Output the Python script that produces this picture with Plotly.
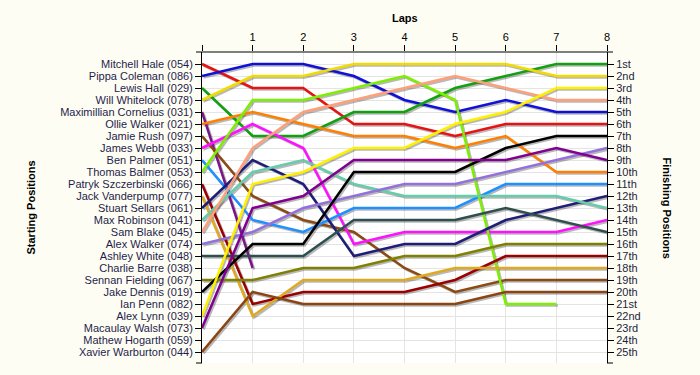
import plotly.graph_objects as go

# ---------------- data ----------------
laps = [0, 1, 2, 3, 4, 5, 6, 7, 8]
lap_labels = ["", "1", "2", "3", "4", "5", "6", "7", "8"]

drivers = [
    "Mitchell Hale (054)", "Pippa Coleman (086)", "Lewis Hall (029)", "Will Whitelock (078)",
    "Maximillian Cornelius (031)", "Ollie Walker (021)", "Jamie Rush (097)", "James Webb (033)",
    "Ben Palmer (051)", "Thomas Balmer (053)", "Patryk Szczerbinski (066)", "Jack Vanderpump (077)",
    "Stuart Sellars (061)", "Max Robinson (041)", "Sam Blake (045)", "Alex Walker (074)",
    "Ashley White (048)", "Charlie Barre (038)", "Sennan Fielding (067)", "Jake Dennis (019)",
    "Ian Penn (082)", "Alex Lynn (039)", "Macaulay Walsh (073)", "Mathew Hogarth (059)",
    "Xavier Warburton (044)",
]

finish_labels = ["1st", "2nd", "3rd", "4th", "5th", "6th", "7th", "8th", "9th", "10th",
                 "11th", "12th", "13th", "14th", "15th", "16th", "17th", "18th", "19th", "20th",
                 "21st", "22nd", "23rd", "24th", "25th"]

N = None
positions = {
    "Mitchell Hale (054)":         [1, 3, 3, 6, 6, 7, 6, 6, 6],
    "Pippa Coleman (086)":         [2, 1, 1, 2, 4, 5, 4, 5, 5],
    "Lewis Hall (029)":            [3, 7, 7, 5, 5, 3, 2, 1, 1],
    "Will Whitelock (078)":        [4, 2, 2, 1, 1, 1, 1, 2, 2],
    "Maximillian Cornelius (031)": [5, 18, N, N, N, N, N, N, N],
    "Ollie Walker (021)":          [6, 5, 6, 7, 7, 8, 7, 10, 10],
    "Jamie Rush (097)":            [7, 12, 14, 15, 18, 20, 19, 19, 19],
    "James Webb (033)":            [8, 6, 8, 16, 15, 15, 15, 15, 14],
    "Ben Palmer (051)":            [9, 14, 15, 13, 13, 13, 11, 11, 11],
    "Thomas Balmer (053)":         [10, 4, 4, 3, 2, 4, 21, 21, N],
    "Patryk Szczerbinski (066)":   [11, 21, 20, 20, 20, 19, 17, 17, 17],
    "Jack Vanderpump (077)":       [12, 22, 19, 19, 19, 18, 18, 18, 18],
    "Stuart Sellars (061)":        [13, 9, 11, 17, 16, 16, 14, 13, 12],
    "Max Robinson (041)":          [14, 10, 9, 11, 12, 12, 12, 12, 13],
    "Sam Blake (045)":             [15, 8, 5, 4, 3, 2, 3, 4, 4],
    "Alex Walker (074)":           [16, 15, 13, 12, 11, 11, 10, 9, 8],
    "Ashley White (048)":          [17, 17, 17, 14, 14, 14, 13, 14, 15],
    "Sennan Fielding (067)":       [19, 19, 18, 18, 17, 17, 16, 16, 16],
    "Jake Dennis (019)":           [20, 16, 16, 10, 10, 10, 8, 7, 7],
    "Alex Lynn (039)":             [22, 11, 10, 8, 8, 6, 5, 3, 3],
    "Macaulay Walsh (073)":        [23, 13, 12, 9, 9, 9, 9, 8, 9],
    "Xavier Warburton (044)":      [25, 20, 21, 21, 21, 21, 20, 20, 20],
}

colors = {
    "Mitchell Hale (054)": "#E81212",
    "Pippa Coleman (086)": "#1010D8",
    "Lewis Hall (029)": "#10A010",
    "Will Whitelock (078)": "#F2DC00",
    "Maximillian Cornelius (031)": "#7A1488",
    "Ollie Walker (021)": "#FF8000",
    "Jamie Rush (097)": "#8B4A13",
    "James Webb (033)": "#FF10FF",
    "Ben Palmer (051)": "#1E90FF",
    "Thomas Balmer (053)": "#7CF000",
    "Patryk Szczerbinski (066)": "#9A0000",
    "Jack Vanderpump (077)": "#E0AA20",
    "Stuart Sellars (061)": "#1E1E78",
    "Max Robinson (041)": "#66CDAA",
    "Sam Blake (045)": "#FFA07A",
    "Alex Walker (074)": "#9370DB",
    "Ashley White (048)": "#2F4F4F",
    "Sennan Fielding (067)": "#808000",
    "Jake Dennis (019)": "#000000",
    "Alex Lynn (039)": "#FFF000",
    "Macaulay Walsh (073)": "#800090",
    "Xavier Warburton (044)": "#8B4513",
}

# ---------------- layout geometry ----------------
W, H = 700, 375
ML, MR, MT, MB = 202, 93, 52, 12
PW, PH = W - ML - MR, H - MT - MB
YMAX = PH / 12.0  # 12 px per position
xr = [0, 8]
dx = 1.5 * (xr[1] - xr[0]) / PW
dy = 1.5 / 12.0
BG = "#FEFDF3"

FONT = "Liberation Sans"
fig = go.Figure()

raced = [n for n in drivers if n in positions]

# invisible trace that keeps the base subplot (grid, names, lap ticks) active
fig.add_trace(go.Scatter(
    x=laps, y=positions[raced[0]], mode="lines", xaxis="x", yaxis="y",
    line=dict(width=0, color="rgba(0,0,0,0)"), hoverinfo="skip", showlegend=False))

# shadows
for name in raced:
    fig.add_trace(go.Scatter(
        x=laps, y=positions[name], mode="lines", xaxis="x2", yaxis="y2",
        line=dict(color="rgba(0,0,0,0.28)", width=2.5), hoverinfo="skip",
        showlegend=False, connectgaps=False))

# main lines
for name in raced:
    fig.add_trace(go.Scatter(
        x=laps, y=positions[name], mode="lines", xaxis="x3", yaxis="y3",
        line=dict(color=colors[name], width=2.5), name=name,
        showlegend=False, connectgaps=False))

tick_font = dict(family=FONT, size=11, color="#1E1E4E")

fig.update_layout(
    width=W, height=H,
    margin=dict(l=ML, r=MR, t=MT, b=MB, pad=0),
    paper_bgcolor=BG, plot_bgcolor="#FFFFFF",
    showlegend=False,
    xaxis=dict(range=xr, side="top", tickvals=laps, ticktext=lap_labels,
               ticks="outside", ticklen=6, tickcolor="black",
               showline=False, showgrid=True, gridcolor="#E4E4E4", gridwidth=1,
               zeroline=False, tickfont=dict(family=FONT, size=11, color="#000000"),
               fixedrange=True),
    yaxis=dict(range=[YMAX, 0], tickvals=list(range(1, 26)), ticktext=drivers,
               ticks="outside", ticklen=6, tickcolor="black",
               showline=True, linecolor="black", linewidth=1,
               showgrid=True, gridcolor="#E4E4E4", gridwidth=1, zeroline=False,
               tickfont=tick_font, fixedrange=True),
    xaxis2=dict(range=[xr[0] - dx, xr[1] - dx], overlaying="x", visible=False, fixedrange=True),
    yaxis2=dict(range=[YMAX - dy, -dy], overlaying="y", visible=False, fixedrange=True),
    xaxis3=dict(range=xr, overlaying="x", visible=False, fixedrange=True),
    yaxis3=dict(range=[YMAX, 0], overlaying="y", side="right",
                tickvals=list(range(1, 26)), ticktext=finish_labels,
                ticks="outside", ticklen=6, tickcolor="black",
                showline=True, linecolor="black", linewidth=1,
                showgrid=False, zeroline=False,
                tickfont=dict(family=FONT, size=11, color="#1E1E3E"), fixedrange=True),
)

# axis frame lines (top axis extended, bottom end ticks)
ext = 6.0 / PW
line_style = dict(color="black", width=1)
fig.add_shape(type="line", xref="paper", yref="paper", x0=-ext, x1=1 + ext, y0=1, y1=1, line=line_style)
fig.add_shape(type="line", xref="paper", yref="paper", x0=-ext, x1=0, y0=0, y1=0, line=line_style)
fig.add_shape(type="line", xref="paper", yref="paper", x0=1, x1=1 + ext, y0=0, y1=0, line=line_style)

title_font = dict(family=FONT, size=11, color="#000000", weight="bold")
fig.add_annotation(text="Laps", xref="paper", yref="paper", x=0.5, y=1 + (MT - 18) / PH,
                   showarrow=False, font=title_font, xanchor="center", yanchor="middle")
fig.add_annotation(text="Starting Positions", xref="paper", yref="paper",
                   x=(30 - ML) / PW, y=0.5, textangle=-90, showarrow=False,
                   font=title_font, xanchor="center", yanchor="middle")
fig.add_annotation(text="Finishing Positions", xref="paper", yref="paper",
                   x=(667 - ML) / PW, y=0.5, textangle=90, showarrow=False,
                   font=title_font, xanchor="center", yanchor="middle")

fig.write_html(
    "out.html",
    config={"displayModeBar": False},
    post_script="document.body.style.margin='0';document.body.style.background='%s';" % BG,
)
